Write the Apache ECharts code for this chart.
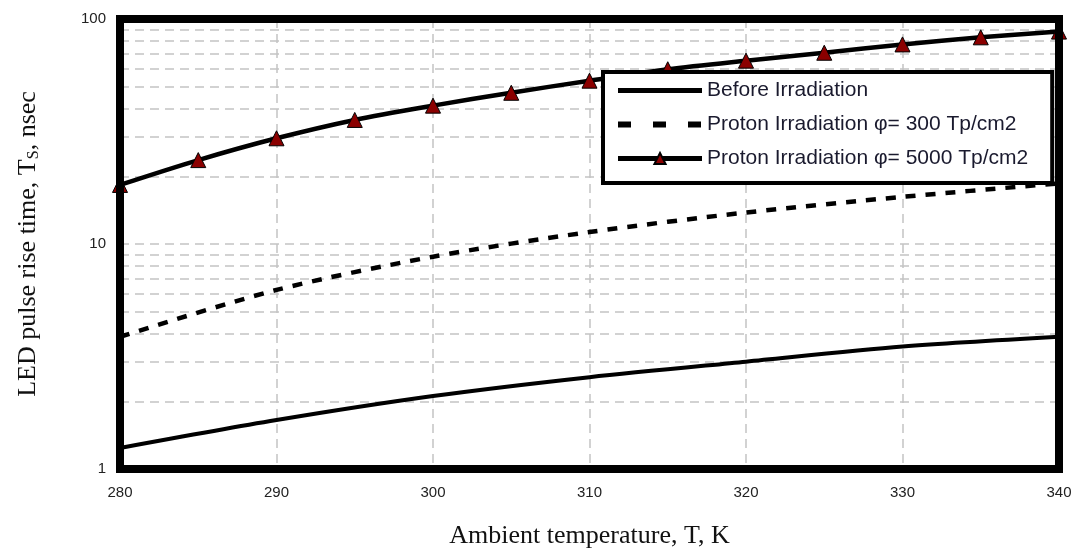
<!DOCTYPE html>
<html>
<head>
<meta charset="utf-8">
<script src="https://cdn.jsdelivr.net/npm/echarts@6/dist/echarts.min.js"></script>
<style>
  html, body { margin: 0; padding: 0; background: #fff; }
  #chart { width: 1075px; height: 548px; }
</style>
</head>
<body>
<div id="chart"></div>
<script>
// data
var tempsCoarse = [280, 290, 300, 310, 320, 330, 340];
var beforeIrr = [1.24, 1.65, 2.11, 2.56, 3.0, 3.5, 3.87];
var proton300 = [3.87, 6.25, 8.78, 11.3, 13.8, 16.2, 18.6];

var tempsFine = [280, 285, 290, 295, 300, 305, 310, 315, 320, 325, 330, 335, 340];
var proton5000 = [18.3, 23.6, 29.5, 35.6, 41.2, 47.0, 53.2, 59.8, 65.3, 70.8, 77.1, 82.9, 87.9];

var minorGrid = [2, 3, 4, 5, 6, 7, 8, 9, 20, 30, 40, 50, 60, 70, 80, 90];

var seriesNames = [
  'Before Irradiation',
  'Proton Irradiation \u03c6= 300 Tp/cm2',
  'Proton Irradiation \u03c6= 5000 Tp/cm2'
];

function pairs(xs, ys) {
  return xs.map(function (x, i) { return [x, ys[i]]; });
}

var gridLine = { color: '#c4c4c4', width: 1.5, type: [9, 6] };
var frameLine = { color: '#000', width: 8, cap: 'square' };

// extra axes that only draw the thick frame above the series
function frameX(pos) {
  return {
    type: 'value', min: 280, max: 340, position: pos, z: 10,
    axisLine: { show: true, lineStyle: frameLine },
    axisTick: { show: false }, axisLabel: { show: false }, splitLine: { show: false }
  };
}
function frameY(pos) {
  return {
    type: 'log', logBase: 10, min: 1, max: 100, position: pos, z: 10,
    axisLine: { show: true, lineStyle: frameLine },
    axisTick: { show: false }, axisLabel: { show: false }, splitLine: { show: false }
  };
}

var option = {
  backgroundColor: '#fff',
  animation: false,
  grid: { left: 120, right: 16, top: 19, bottom: 79, outerBoundsMode: 'none', containLabel: false },
  xAxis: [
    {
      type: 'value', min: 280, max: 340, interval: 10, position: 'bottom',
      name: 'Ambient temperature, T, K',
      nameLocation: 'middle', nameGap: 54,
      nameTextStyle: { fontFamily: 'Liberation Serif', fontSize: 26, color: '#111' },
      axisLine: { show: false },
      axisTick: { show: false },
      axisLabel: { fontFamily: 'Liberation Sans', fontSize: 15, color: '#222', margin: 16 },
      splitLine: { show: true, showMinLine: false, showMaxLine: false, lineStyle: gridLine }
    },
    frameX('top'),
    frameX('bottom')
  ],
  yAxis: [
    {
      type: 'log', logBase: 10, min: 1, max: 100, position: 'left',
      name: 'LED pulse rise time, T{s|S}, nsec',
      nameLocation: 'middle', nameGap: 78, nameRotate: 90,
      nameTextStyle: {
        fontFamily: 'Liberation Serif', fontSize: 26, color: '#111',
        rich: { s: { fontFamily: 'Liberation Serif', fontSize: 16, color: '#111', padding: [12, 0, 0, 0] } }
      },
      axisLine: { show: false },
      axisTick: { show: false },
      axisLabel: { fontFamily: 'Liberation Sans', fontSize: 15, color: '#222', margin: 14 },
      splitLine: { show: true, showMinLine: false, showMaxLine: false, lineStyle: gridLine }
    },
    frameY('right'),
    frameY('left')
  ],
  legend: {
    data: [
      { name: seriesNames[0], itemStyle: { opacity: 0 }, lineStyle: { width: 5 } },
      { name: seriesNames[1], itemStyle: { opacity: 0 }, lineStyle: { width: 6, type: [13, 22] } },
      { name: seriesNames[2], lineStyle: { width: 5 } }
    ],
    orient: 'vertical',
    left: 603, top: 72, z: 20,
    backgroundColor: '#fff',
    borderColor: '#000', borderWidth: 4, borderRadius: 0,
    padding: [8, 24, 14, 12],
    itemWidth: 84, itemHeight: 14, itemGap: 13,
    textStyle: { fontFamily: 'Liberation Sans', fontSize: 21, color: '#1a1a2e', lineHeight: 20 }
  },
  series: [
    {
      name: 'minor grid', type: 'line', data: [], silent: true, z: 1,
      markLine: {
        silent: true, symbol: 'none', label: { show: false }, z: 1,
        lineStyle: gridLine,
        data: minorGrid.map(function (v) { return { yAxis: v }; })
      }
    },
    {
      name: seriesNames[0], type: 'line', smooth: 0.3, symbol: 'none', z: 3,
      data: pairs(tempsCoarse, beforeIrr),
      lineStyle: { color: '#000', width: 4 },
      itemStyle: { color: '#000' }
    },
    {
      name: seriesNames[1], type: 'line', smooth: 0.3, symbol: 'none', z: 3,
      data: pairs(tempsCoarse, proton300),
      lineStyle: { color: '#000', width: 4.5, type: [10, 10] },
      itemStyle: { color: '#000' }
    },
    {
      name: seriesNames[2], type: 'line', smooth: 0.3, z: 3,
      symbol: 'triangle', symbolSize: 15,
      data: pairs(tempsFine, proton5000),
      lineStyle: { color: '#000', width: 4.5 },
      itemStyle: { color: '#8b0000', borderColor: '#000', borderWidth: 1 }
    }
  ]
};

var chart = echarts.init(document.getElementById('chart'), null, { renderer: 'canvas' });
chart.setOption(option);
</script>
</body>
</html>
